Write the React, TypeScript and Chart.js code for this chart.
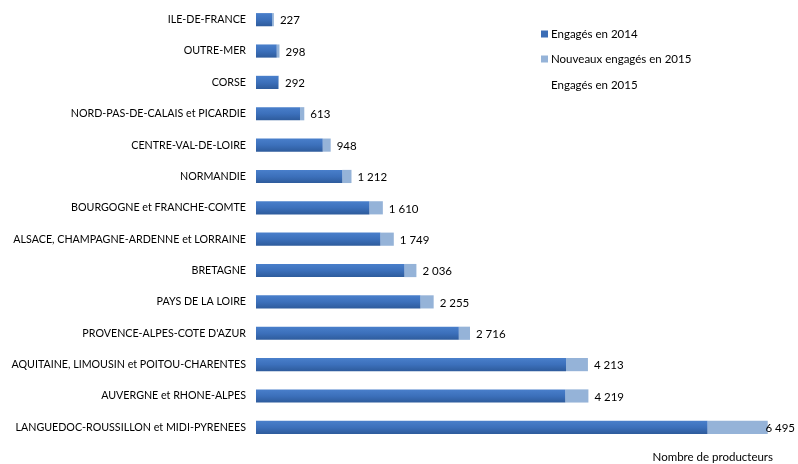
import React, { useEffect, useRef } from "react";
import { Chart, registerables } from "chart.js";

Chart.register(...registerables);

const categories = [
  "ILE-DE-FRANCE",
  "OUTRE-MER",
  "CORSE",
  "NORD-PAS-DE-CALAIS et PICARDIE",
  "CENTRE-VAL-DE-LOIRE",
  "NORMANDIE",
  "BOURGOGNE et FRANCHE-COMTE",
  "ALSACE, CHAMPAGNE-ARDENNE et LORRAINE",
  "BRETAGNE",
  "PAYS DE LA LOIRE",
  "PROVENCE-ALPES-COTE D'AZUR",
  "AQUITAINE, LIMOUSIN et POITOU-CHARENTES",
  "AUVERGNE et RHONE-ALPES",
  "LANGUEDOC-ROUSSILLON et MIDI-PYRENEES",
];

const engages2014 = [203, 263, 280, 559, 847, 1096, 1439, 1579, 1884, 2087, 2574, 3936, 3926, 5731];
const nouveaux2015 = [24, 35, 12, 54, 101, 116, 171, 170, 152, 168, 142, 277, 293, 764];
const engages2015 = [227, 298, 292, 613, 948, 1212, 1610, 1749, 2036, 2255, 2716, 4213, 4219, 6495];

const seriesNames = ["Engagés en 2014", "Nouveaux engagés en 2015", "Engagés en 2015"];
const axisTitle = "Nombre de producteurs";

const FONT = "Lato";
const DARK = "#3b6db6";
const LIGHT = "#95b3d8";

const fmt = (n: number) => String(n).replace(/\B(?=(\d{3})+(?!\d))/g, " ");

const labelsPlugin = {
  id: "totLabels",
  afterDatasetsDraw(chart: any) {
    const ctx = chart.ctx;
    const meta = chart.getDatasetMeta(1);
    ctx.save();
    ctx.font = `11.5px ${FONT}`;
    ctx.fillStyle = "#000";
    ctx.textBaseline = "middle";
    ctx.textAlign = "left";
    meta.data.forEach((el: any, i: number) => {
      const t = fmt(engages2015[i]);
      const w = ctx.measureText(t).width;
      const x = Math.min(el.x + 6, chart.width - w - 3);
      ctx.fillText(t, x, el.y + 1);
    });
    ctx.restore();
  },
};

const legendPlugin = {
  id: "customLegend",
  afterDraw(chart: any) {
    const ctx = chart.ctx;
    const colors = [DARK, LIGHT, null];
    const ys = [34, 59, 85];
    ctx.save();
    ctx.font = `11.5px ${FONT}`;
    ctx.textBaseline = "middle";
    seriesNames.forEach((name, i) => {
      const c = colors[i];
      if (c) {
        ctx.fillStyle = c;
        ctx.fillRect(541, ys[i] - 3.5, 7, 7);
      }
      ctx.fillStyle = "#000";
      ctx.fillText(name, 551, ys[i]);
    });
    // axis title
    ctx.textAlign = "right";
    ctx.fillText(axisTitle, chart.chartArea.right - 3, 457);
    ctx.restore();
  },
};

export default function App() {
  const ref = useRef<HTMLCanvasElement>(null);
  useEffect(() => {
    document.body.style.margin = "0";
    const canvas = ref.current!;
    const chart = new Chart(canvas, {
      type: "bar",
      data: {
        labels: categories,
        datasets: [
          {
            label: seriesNames[0],
            data: engages2014,
            backgroundColor: (c: any) => {
              const ch = c.chart;
              const ys = ch.scales && ch.scales.y;
              if (!ys || typeof c.dataIndex !== "number") return DARK;
              const yc = ys.getPixelForValue(c.dataIndex);
              if (!isFinite(yc)) return DARK;
              const g = ch.ctx.createLinearGradient(0, yc - 7, 0, yc + 7);
              g.addColorStop(0, "#4a80cc");
              g.addColorStop(0.5, "#3c70bb");
              g.addColorStop(1, "#2d5a9a");
              return g;
            },
            barPercentage: 0.42,
            categoryPercentage: 1,
          },
          {
            label: seriesNames[1],
            data: nouveaux2015,
            backgroundColor: LIGHT,
            barPercentage: 0.42,
            categoryPercentage: 1,
          },
        ],
      },
      options: {
        animation: false,
        responsive: false,
        devicePixelRatio: 1,
        indexAxis: "y",
        layout: { padding: { top: 4, right: 22, left: 0, bottom: 21 } },
        plugins: {
          legend: { display: false },
          tooltip: { enabled: false },
        },
        scales: {
          x: {
            stacked: true,
            min: 0,
            max: 6600,
            display: false,
          },
          y: {
            stacked: true,
            grid: { display: false, drawTicks: false },
            border: { display: false },
            ticks: {
              color: "#000",
              font: { family: FONT, size: 10.7 },
              padding: 10,
              autoSkip: false,
            },
            afterFit: (s: any) => {
              s.width = 256;
              s.paddingTop = 0;
              s.paddingBottom = 0;
            },
          },
        },
      },
      plugins: [labelsPlugin, legendPlugin],
    } as any);
    return () => chart.destroy();
  }, []);
  return <canvas ref={ref} width={798} height={464} style={{ display: "block" }} />;
}
